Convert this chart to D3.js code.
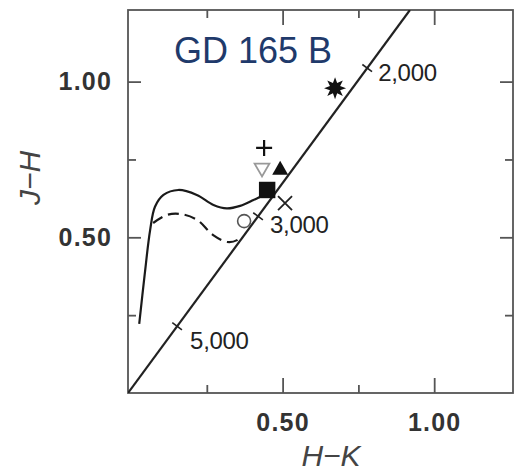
<!DOCTYPE html>
<html><head><meta charset="utf-8">
<script src="https://cdn.jsdelivr.net/npm/d3@7"></script>
<style>
html,body{margin:0;padding:0;background:#fff;}
svg{display:block;}
</style></head>
<body>
<svg id="chart" width="518" height="474"></svg>
<script>
// ---- data ----
const title = "GD 165 B";
const xLabel = "H\u2212K";
const yLabel = "J\u2212H";
const majorTicks = [0.5, 1.0];
const minorTicks = [0.25, 0.75];
const majorTickLabels = ["0.50", "1.00"];

// blackbody-like straight line (H-K, J-H endpoints)
const lineHK = [-0.01, 0.92];
const lineJH = [0.0, 1.23];
// temperature marks along line
const tempHK = [0.152, 0.419, 0.779];
const tempLabels = ["5,000", "3,000", "2,000"];

// solid model curve
const solidHK = [0.027, 0.045, 0.063, 0.079, 0.107, 0.156, 0.217, 0.272, 0.316, 0.360, 0.404, 0.437, 0.452];
const solidJH = [0.222, 0.380, 0.523, 0.598, 0.636, 0.652, 0.636, 0.604, 0.593, 0.601, 0.620, 0.636, 0.650];
// dashed model curve
const dashHK = [0.073, 0.119, 0.162, 0.218, 0.271, 0.317, 0.350, 0.363];
const dashJH = [0.546, 0.572, 0.575, 0.556, 0.507, 0.485, 0.491, 0.504];

// observed points
const ptHK = [0.673, 0.439, 0.432, 0.492, 0.449, 0.508, 0.373];
const ptJH = [0.979, 0.787, 0.723, 0.716, 0.652, 0.610, 0.552];
const ptShape = ["star", "plus", "downTriangleOpen", "triangle", "square", "cross", "circleOpen"];

// ---- chart ----
const svg = d3.select("#chart");
const x = d3.scaleLinear().domain([-0.01, 1.26]).range([128, 513]);
const y = d3.scaleLinear().domain([0, 1.23]).range([393, 10]);
const axisColor = "#555";

svg.append("rect").attr("width", 518).attr("height", 474).attr("fill", "#fff");

// frame
svg.append("rect")
  .attr("x", x.range()[0]).attr("y", y.range()[1])
  .attr("width", x.range()[1] - x.range()[0])
  .attr("height", y.range()[0] - y.range()[1])
  .attr("fill", "none").attr("stroke", axisColor).attr("stroke-width", 1.8);

function styleAxis(g) {
  g.select(".domain").remove();
  g.selectAll(".tick line").attr("stroke", axisColor).attr("stroke-width", 1.8);
  g.selectAll(".tick text")
    .attr("fill", "#333").attr("font-family", "Liberation Sans, Arial, sans-serif")
    .attr("font-size", 25).attr("font-weight", "bold").attr("letter-spacing", 1.2);
}
const fmt = d => majorTickLabels[majorTicks.indexOf(d)];

// bottom
svg.append("g").attr("transform", `translate(0,${y.range()[0]})`)
  .call(d3.axisBottom(x).tickValues(majorTicks).tickFormat(fmt).tickSize(-15).tickPadding(20)).call(styleAxis);
svg.append("g").attr("transform", `translate(0,${y.range()[0]})`)
  .call(d3.axisBottom(x).tickValues(minorTicks).tickFormat("").tickSize(-8)).call(styleAxis);
// top
svg.append("g").attr("transform", `translate(0,${y.range()[1]})`)
  .call(d3.axisTop(x).tickValues(majorTicks).tickFormat("").tickSize(-15)).call(styleAxis);
svg.append("g").attr("transform", `translate(0,${y.range()[1]})`)
  .call(d3.axisTop(x).tickValues(minorTicks).tickFormat("").tickSize(-8)).call(styleAxis);
// left
svg.append("g").attr("transform", `translate(${x.range()[0]},0)`)
  .call(d3.axisLeft(y).tickValues(majorTicks).tickFormat(fmt).tickSize(-13).tickPadding(16)).call(styleAxis);
svg.append("g").attr("transform", `translate(${x.range()[0]},0)`)
  .call(d3.axisLeft(y).tickValues(minorTicks).tickFormat("").tickSize(-8)).call(styleAxis);
// right
svg.append("g").attr("transform", `translate(${x.range()[1]},0)`)
  .call(d3.axisRight(y).tickValues(majorTicks).tickFormat("").tickSize(-13)).call(styleAxis);
svg.append("g").attr("transform", `translate(${x.range()[1]},0)`)
  .call(d3.axisRight(y).tickValues(minorTicks).tickFormat("").tickSize(-8)).call(styleAxis);

// axis titles
svg.append("text").attr("x", 331).attr("y", 466).attr("text-anchor", "middle")
  .attr("font-family", "Liberation Sans, Arial, sans-serif").attr("font-style", "italic")
  .attr("font-size", 30).attr("fill", "#444").text(xLabel);
svg.append("text").attr("transform", "translate(40,178) rotate(-90)").attr("text-anchor", "middle")
  .attr("font-family", "Liberation Sans, Arial, sans-serif").attr("font-style", "italic")
  .attr("font-size", 30).attr("fill", "#444").text(yLabel);

// clip
svg.append("clipPath").attr("id", "clip").append("rect")
  .attr("x", x.range()[0]).attr("y", y.range()[1])
  .attr("width", x.range()[1] - x.range()[0]).attr("height", y.range()[0] - y.range()[1]);
const plot = svg.append("g").attr("clip-path", "url(#clip)");

// straight line
const lineData = lineHK.map((h, i) => [h, lineJH[i]]);
const lineGen = d3.line().x(d => x(d[0])).y(d => y(d[1]));
plot.append("path").attr("d", lineGen(lineData)).attr("fill", "none")
  .attr("stroke", "#222").attr("stroke-width", 2.2);

// temperature ticks on line
const slopeJH = (lineJH[1] - lineJH[0]) / (lineHK[1] - lineHK[0]);
const jhOnLine = h => lineJH[0] + (h - lineHK[0]) * slopeJH;
const p0 = [x(lineData[0][0]), y(lineData[0][1])], p1 = [x(lineData[1][0]), y(lineData[1][1])];
const len = Math.hypot(p1[0] - p0[0], p1[1] - p0[1]);
const nx = -(p1[1] - p0[1]) / len, ny = (p1[0] - p0[0]) / len;
tempHK.forEach((h, i) => {
  const cx = x(h), cy = y(jhOnLine(h));
  plot.append("line")
    .attr("x1", cx - nx * 6).attr("y1", cy - ny * 6)
    .attr("x2", cx + nx * 6).attr("y2", cy + ny * 6)
    .attr("stroke", "#222").attr("stroke-width", 1.6);
});
const tempLabelOffsets = [[13, 23], [12, 17], [11, 13]];
tempHK.forEach((h, i) => {
  svg.append("text")
    .attr("x", x(h) + tempLabelOffsets[i][0]).attr("y", y(jhOnLine(h)) + tempLabelOffsets[i][1])
    .attr("font-family", "Liberation Sans, Arial, sans-serif").attr("font-size", 24)
    .attr("letter-spacing", -0.3).attr("fill", "#222").text(tempLabels[i]);
});

// model curves
const curve = d3.line().x(d => x(d[0])).y(d => y(d[1])).curve(d3.curveCatmullRom);
plot.append("path").attr("d", curve(solidHK.map((h, i) => [h, solidJH[i]])))
  .attr("fill", "none").attr("stroke", "#1a1a1a").attr("stroke-width", 2.2);
plot.append("path").attr("d", curve(dashHK.map((h, i) => [h, dashJH[i]])))
  .attr("fill", "none").attr("stroke", "#1a1a1a").attr("stroke-width", 2.2)
  .attr("stroke-dasharray", "11,6");

// markers
function starPath(rOut, rIn, n) {
  const pts = [];
  for (let k = 0; k < 2 * n; k++) {
    const r = k % 2 === 0 ? rOut : rIn;
    const a = Math.PI * k / n;
    pts.push([r * Math.sin(a), -r * Math.cos(a)]);
  }
  return "M" + pts.map(p => p.join(",")).join("L") + "Z";
}
ptHK.forEach((h, i) => {
  const g = plot.append("g").attr("transform", `translate(${x(h)},${y(ptJH[i])})`);
  switch (ptShape[i]) {
    case "star":
      g.append("path").attr("d", starPath(11, 5.5, 8)).attr("fill", "#111");
      break;
    case "plus":
      g.append("path").attr("d", "M-8,0H8M0,-8V8").attr("stroke", "#111").attr("stroke-width", 2.2);
      break;
    case "downTriangleOpen":
      g.append("path").attr("d", d3.symbol(d3.symbolTriangle, 95)()).attr("transform", "rotate(180)")
        .attr("fill", "#fff").attr("stroke", "#999").attr("stroke-width", 1.8);
      break;
    case "triangle":
      g.append("path").attr("d", d3.symbol(d3.symbolTriangle, 110)()).attr("fill", "#111");
      break;
    case "square":
      g.append("path").attr("d", d3.symbol(d3.symbolSquare, 270)()).attr("fill", "#111");
      break;
    case "cross":
      g.append("path").attr("d", "M-7,-7L7,7M-7,7L7,-7").attr("stroke", "#222").attr("stroke-width", 1.8);
      break;
    case "circleOpen":
      g.append("circle").attr("r", 6.5).attr("fill", "#fff").attr("stroke", "#555").attr("stroke-width", 1.6);
      break;
  }
});

// title
svg.append("text").attr("x", 174).attr("y", 63)
  .attr("font-family", "Liberation Sans, Arial, sans-serif").attr("font-size", 36)
  .attr("fill", "#1f3a6b").text(title);
</script>
</body></html>
